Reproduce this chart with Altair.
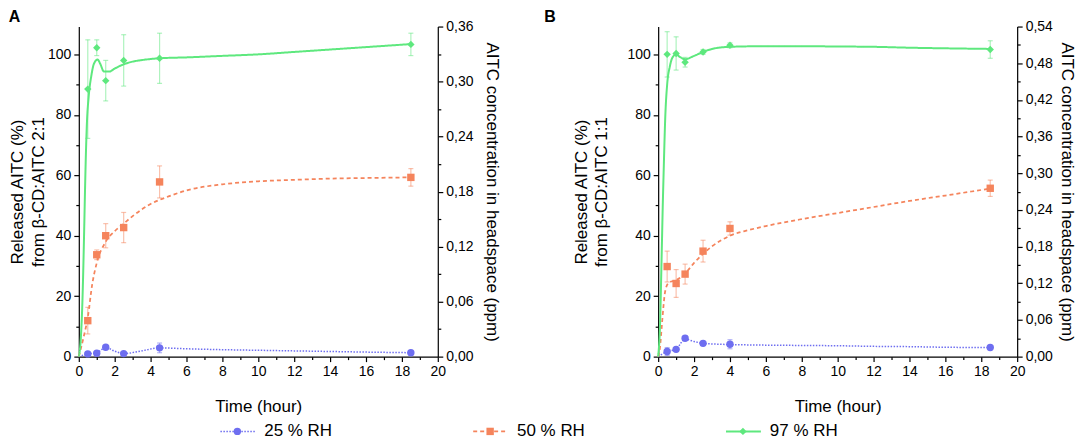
import altair as alt
import pandas as pd

# ---------------- data ----------------
SERIES = ["25 % RH", "50 % RH", "97 % RH"]
COLORS = ["#6e6ef0", "#f5845c", "#5ee87e"]
SHAPES = ["circle", "square", "diamond"]
SIZES = [55, 55, 85]
DASHES = [[1.5, 1.5], [4, 3], [1, 0]]
WIDTHS = [1.5, 2.0, 1.8]

# Panel A (beta-CD:AITC 2:1) measured points
A_T = [0.5, 1.0, 1.5, 2.5, 4.5, 18.5]
A_25 = [0.9, 1.1, 3.1, 1.0, 2.9, 1.3]
A_25_ERR = [0.3, 0.4, 0.4, 0.3, 1.6, 0.4]
A_50 = [11.9, 33.7, 40.0, 42.7, 57.8, 59.3]
A_50_ERR = [4.4, 1.6, 4.0, 5.0, 5.3, 2.9]
A_97 = [88.5, 102.2, 91.3, 98.0, 98.7, 103.3]
A_97_ERR = [16.3, 2.6, 6.7, 8.5, 8.3, 3.7]

# Panel A fitted curves
A_C25_T = [0, 0.5, 1.0, 1.5, 2.0, 2.5, 3.5, 4.5, 6, 8, 10, 12, 14, 16, 18.5]
A_C25_V = [0, 0.9, 1.3, 3.0, 1.8, 1.0, 1.9, 2.9, 2.6, 2.3, 2.1, 1.9, 1.7, 1.5, 1.3]
A_C50_T = [0, 0.25, 0.5, 0.75, 1.0, 1.5, 2.0, 2.5, 3.0, 4.0, 5.0, 6.0, 8.0, 10, 12, 14, 16, 18.5]
A_C50_V = [0, 6, 13, 24, 31, 38, 41.5, 44, 46.5, 50.5, 53, 55, 57, 58, 58.5, 58.9, 59.1, 59.3]
A_C97_T = [0, 0.1, 0.2, 0.3, 0.35, 0.4, 0.45, 0.55, 0.7, 0.85, 1.05, 1.2, 1.4, 1.7, 2.0,
           2.5, 3.0, 3.5, 4.5, 6, 8, 10, 12, 14, 16, 18.5]
A_C97_V = [0, 5, 18, 42, 56, 68, 77, 86, 93, 97, 98.3, 96.8, 94.3, 94.3, 95.3,
           96.7, 97.6, 98.1, 98.7, 99.0, 99.5, 100.0, 100.8, 101.6, 102.4, 103.4]

# Panel B (beta-CD:AITC 1:1) measured points
B_T = [0.5, 1.0, 1.5, 2.5, 4.0, 18.5]
B_25 = [1.7, 2.4, 6.1, 4.4, 4.1, 3.0]
B_25_ERR = [1.3, 0.5, 0.7, 0.6, 1.5, 0.5]
B_50 = [29.8, 24.2, 27.3, 34.9, 42.4, 55.7]
B_50_ERR = [5.1, 4.6, 3.3, 3.6, 2.2, 2.7]
B_97 = [100.0, 100.3, 97.4, 100.8, 103.0, 101.6]
B_97_ERR = [7.5, 5.5, 1.6, 0.8, 0.8, 2.9]

# Panel B fitted curves
B_C25_T = [0, 0.5, 1.0, 1.5, 2.0, 2.5, 3.0, 4.0, 6, 8, 10, 12, 14, 16, 18.5]
B_C25_V = [0, 1.7, 2.5, 5.8, 5.0, 4.4, 4.2, 4.0, 3.8, 3.7, 3.6, 3.4, 3.3, 3.1, 3.0]
B_C50_T = [0, 0.1, 0.2, 0.3, 0.35, 0.45, 0.6, 1.0, 1.5, 2.0, 2.5, 3.0, 4.0, 5.0, 6.0,
           8.0, 10, 12, 14, 16, 18.5]
B_C50_V = [0, 3, 10, 17, 20, 23, 24.5, 25.3, 27.5, 31, 34, 36.5, 40, 41.8, 43.2,
           45.5, 47.5, 49.5, 51.5, 53.3, 55.6]
B_C97_T = [0, 0.1, 0.2, 0.26, 0.3, 0.4, 0.5, 0.65, 0.8, 1.0, 1.2, 1.5, 2.0, 2.5, 3.0,
           4.0, 6, 8, 10, 12, 14, 16, 18.5]
B_C97_V = [0, 10, 35, 51, 60, 80, 90, 96, 99, 100, 99.2, 98.4, 99.5, 100.8, 101.8,
           102.5, 102.7, 102.7, 102.6, 102.5, 102.2, 102.0, 101.8]

X_TICKS = list(range(0, 21))
Y_TICKS = list(range(0, 101, 10))
A_PPM_TICKS = [round(i * 0.03, 2) for i in range(13)]
B_PPM_TICKS = [round(i * 0.03, 2) for i in range(19)]

FONT = "Liberation Sans"
W, H = 360, 331
Y_MAX = 109.2

color_scale = alt.Scale(domain=SERIES, range=COLORS)
shape_scale = alt.Scale(domain=SERIES, range=SHAPES)
size_scale = alt.Scale(domain=SERIES, range=SIZES)
dash_scale = alt.Scale(domain=SERIES, range=DASHES)
width_scale = alt.Scale(domain=SERIES, range=WIDTHS)


def points_df(t, vals, errs):
    rows = []
    for s, v, e in zip(SERIES, vals, errs):
        for ti, vi, ei in zip(t, v, e):
            rows.append({"t": ti, "v": vi, "lo": vi - ei, "hi": vi + ei, "series": s})
    return pd.DataFrame(rows)


def curves_df(curves):
    rows = []
    for s, (ct, cv) in zip(SERIES, curves):
        for ti, vi in zip(ct, cv):
            rows.append({"t": ti, "v": vi, "series": s})
    return pd.DataFrame(rows)


def panel(letter, t, vals, errs, curves, ratio, ppm_ticks, ppm_max, left_pad, right_pad, title_dx):
    pdf = points_df(t, vals, errs)
    cdf = curves_df(curves)
    x = alt.X(
        "t:Q",
        scale=alt.Scale(domain=[0, 20], nice=False),
        axis=alt.Axis(
            values=X_TICKS,
            labelExpr="datum.value % 2 == 0 ? datum.label : ''",
            tickSize={"condition": {"test": "datum.value % 2 != 0", "value": 3}, "value": 5},
            title="Time (hour)",
            titlePadding=20,
            labelPadding=3,
            labelFlush=False,
        ),
    )
    yscale = alt.Scale(domain=[0, Y_MAX], nice=False)
    yaxis = alt.Axis(
        values=Y_TICKS,
        labelExpr="datum.value % 20 == 0 ? datum.label : ''",
        tickSize={"condition": {"test": "datum.value % 20 != 0", "value": 3}, "value": 5},
        title=["Released AITC (%)", "from \u03b2-CD:AITC " + ratio],
        titlePadding=left_pad,
        titleLineHeight=21,
        labelPadding=3,
    )
    col = alt.Color("series:N", scale=color_scale, legend=None)

    err = alt.Chart(pdf).mark_errorbar(ticks=True, opacity=0.5, thickness=1.2).encode(
        x=x, y=alt.Y("lo:Q", scale=yscale, axis=yaxis), y2="hi:Q", color=col
    )
    line = alt.Chart(cdf).mark_line(interpolate="monotone").encode(
        x=x,
        y=alt.Y("v:Q", scale=yscale, axis=yaxis),
        color=col,
        strokeDash=alt.StrokeDash("series:N", scale=dash_scale, legend=None),
        strokeWidth=alt.StrokeWidth("series:N", scale=width_scale, legend=None),
    )
    pts = alt.Chart(pdf).mark_point(filled=True, opacity=1).encode(
        x=x,
        y=alt.Y("v:Q", scale=yscale, axis=yaxis),
        color=col,
        shape=alt.Shape("series:N", scale=shape_scale, legend=None),
        size=alt.Size("series:N", scale=size_scale, legend=None),
    )
    left = alt.layer(err, line, pts)
    right = alt.Chart(pd.DataFrame({"ppm": ppm_ticks})).mark_point(opacity=0).encode(
        y=alt.Y(
            "ppm:Q",
            scale=alt.Scale(domain=[0, ppm_max], nice=False),
            axis=alt.Axis(
                orient="right",
                values=ppm_ticks,
                labelExpr="round(datum.value*100) % 6 == 0 ? replace(format(datum.value, '.2f'), '.', ',') : ''",
                tickSize={"condition": {"test": "round(datum.value*100) % 6 != 0", "value": 3}, "value": 5},
                title="AITC concentration in headspace (ppm)",
                titlePadding=right_pad,
                labelPadding=3,
            ),
        )
    )
    return (
        alt.layer(left, right)
        .resolve_scale(y="independent")
        .properties(
            width=W,
            height=H,
            title=alt.TitleParams(
                letter, anchor="start", frame="bounds", fontSize=16, fontWeight="bold",
                font=FONT, offset=0, dx=title_dx, dy=5, color="black",
            ),
        )
    )


chart_a = panel(
    "A", A_T, [A_25, A_50, A_97], [A_25_ERR, A_50_ERR, A_97_ERR],
    [(A_C25_T, A_C25_V), (A_C50_T, A_C50_V), (A_C97_T, A_C97_V)],
    "2:1", A_PPM_TICKS, 0.36, 0, 10, 0,
)
chart_b = panel(
    "B", B_T, [B_25, B_50, B_97], [B_25_ERR, B_50_ERR, B_97_ERR],
    [(B_C25_T, B_C25_V), (B_C50_T, B_C50_V), (B_C97_T, B_C97_V)],
    "1:1", B_PPM_TICKS, 0.54, 16, 5, -28,
)

# ---------------- legend row ----------------
ldf = pd.DataFrame({"series": SERIES})
lx = alt.X("series:N", scale=alt.Scale(type="point", domain=SERIES, range=[142, 649], padding=0), axis=None)
lcol = alt.Color("series:N", scale=color_scale, legend=None)
leg_line = alt.Chart(ldf).mark_rule(x2Offset=35).encode(
    x=lx, x2="series:N", y=alt.value(8), color=lcol,
    strokeDash=alt.StrokeDash("series:N", scale=dash_scale, legend=None),
    strokeWidth=alt.StrokeWidth("series:N", scale=width_scale, legend=None),
)
leg_pt = alt.Chart(ldf).mark_point(filled=True, opacity=1, xOffset=17).encode(
    x=lx, y=alt.value(8), color=lcol,
    shape=alt.Shape("series:N", scale=shape_scale, legend=None),
    size=alt.Size("series:N", scale=size_scale, legend=None),
)
leg_txt = alt.Chart(ldf).mark_text(align="left", baseline="middle", xOffset=44, fontSize=17, font=FONT, color="black").encode(
    x=lx, y=alt.value(8), text="series:N"
)
legend = alt.layer(leg_line, leg_pt, leg_txt).properties(width=850, height=16)

chart = (
    alt.vconcat(alt.hconcat(chart_a, chart_b, spacing=42), legend, spacing=8)
    .properties(padding=0)
    .configure_view(stroke=None)
    .configure_axis(
        labelFont=FONT, titleFont=FONT, labelFontSize=14, titleFontSize=17,
        titleFontWeight="normal", labelColor="black", titleColor="black",
        domainColor="black", tickColor="black", domainWidth=1.2, tickWidth=1.2, grid=False,
    )
    .configure_text(font=FONT)
)

chart.save("out.html", embed_options={"renderer": "svg", "actions": False})
